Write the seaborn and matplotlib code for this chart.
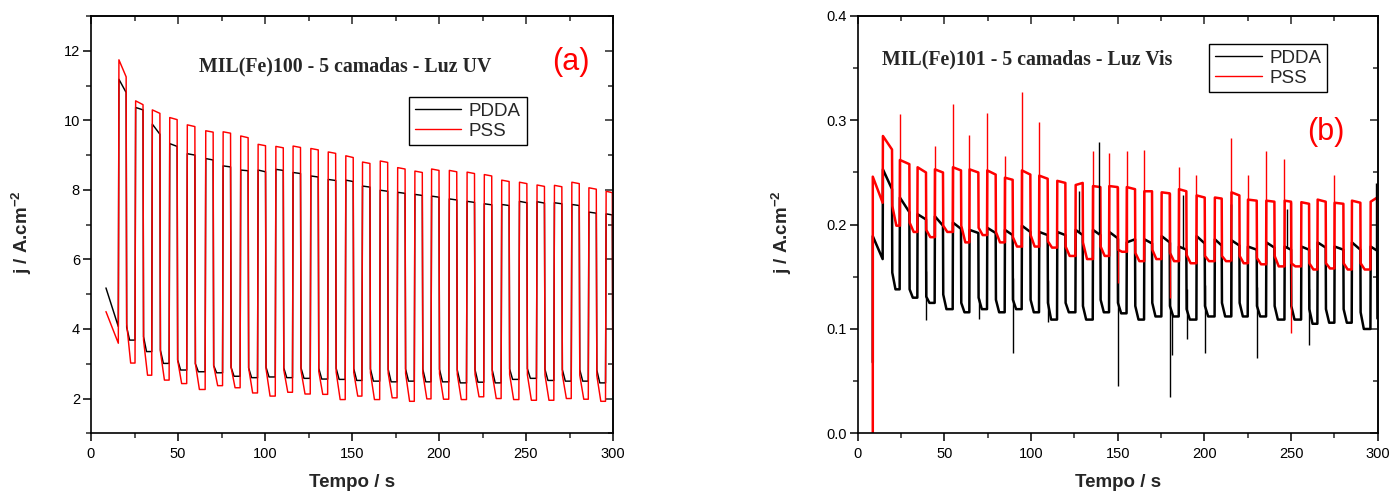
import numpy as np
import pandas as pd
import matplotlib
matplotlib.use("Agg")
import matplotlib.pyplot as plt
import seaborn as sns
from matplotlib.ticker import MultipleLocator, FormatStrFormatter

# ================= Panel (a): MIL(Fe)100 - UV light =================
a_t_on = [15.7, 25.3, 34.9, 44.9, 55.0, 65.6, 75.6, 85.7, 95.7, 105.9, 115.8, 126.0, 136.0, 146.1,
          155.7, 165.9, 175.9, 185.8, 195.4, 205.6, 215.8, 225.7, 235.7, 245.9, 256.0, 266.0, 276.0,
          285.8, 295.7]
a_t_off = [20.2, 29.9, 39.6, 49.5, 59.7, 70.2, 80.2, 90.3, 100.3, 110.5, 120.4, 130.6, 140.6, 150.7,
           160.3, 170.5, 180.5, 190.4, 200.0, 210.2, 220.4, 230.3, 240.3, 250.5, 260.6, 270.6, 280.6,
           290.4, 299.6]
# PDDA (black)
a_pdda_init = [8.6, 5.18, 4.07]
a_pdda_on_start = [11.18, 10.37, 9.89, 9.33, 9.04, 8.90, 8.69, 8.57, 8.57, 8.59, 8.50, 8.40, 8.30, 8.28,
                   8.11, 7.99, 7.93, 7.87, 7.82, 7.74, 7.67, 7.60, 7.58, 7.67, 7.66, 7.63, 7.58, 7.36, 7.31]
a_pdda_on_end = [10.80, 10.30, 9.60, 9.25, 9.00, 8.86, 8.66, 8.55, 8.52, 8.56, 8.47, 8.37, 8.27, 8.24,
                 8.08, 7.96, 7.90, 7.84, 7.79, 7.71, 7.64, 7.57, 7.55, 7.63, 7.62, 7.60, 7.55, 7.33, 7.28]
a_pdda_off_start = [4.05, 3.78, 3.39, 3.11, 3.00, 2.95, 2.90, 2.88, 2.90, 2.88, 2.88, 2.87, 2.87, 2.86,
                    2.85, 2.84, 2.85, 2.84, 2.84, 2.82, 2.83, 2.82, 2.85, 2.86, 2.84, 2.83, 2.83, 2.82, 2.80]
a_pdda_off_end = [3.68, 3.35, 3.01, 2.82, 2.77, 2.74, 2.64, 2.60, 2.62, 2.60, 2.58, 2.56, 2.55, 2.52,
                  2.50, 2.48, 2.50, 2.48, 2.48, 2.45, 2.47, 2.45, 2.55, 2.58, 2.52, 2.50, 2.50, 2.45]
# PSS (red)
a_pss_init = [8.6, 4.50, 3.59]
a_pss_on_start = [11.74, 10.56, 10.30, 10.08, 9.87, 9.70, 9.67, 9.55, 9.31, 9.25, 9.26, 9.19, 9.09, 8.98,
                  8.80, 8.83, 8.64, 8.54, 8.60, 8.56, 8.51, 8.44, 8.28, 8.22, 8.14, 8.13, 8.22, 8.06, 7.96]
a_pss_on_end = [11.25, 10.45, 10.20, 10.02, 9.82, 9.66, 9.63, 9.50, 9.27, 9.21, 9.22, 9.15, 9.05, 8.93,
                8.76, 8.79, 8.60, 8.50, 8.56, 8.52, 8.47, 8.40, 8.24, 8.18, 8.10, 8.09, 8.18, 8.02, 7.92]
a_pss_off_start = [4.15, 3.68, 3.35, 3.10, 3.00, 2.95, 2.90, 2.88, 2.85, 2.82, 2.80, 2.78, 2.76, 2.75,
                   2.74, 2.73, 2.72, 2.72, 2.71, 2.70, 2.70, 2.70, 2.69, 2.68, 2.68, 2.68, 2.67, 2.66, 2.10]
a_pss_off_end = [3.02, 2.67, 2.53, 2.43, 2.26, 2.37, 2.31, 2.16, 2.07, 2.18, 2.13, 2.12, 1.97, 2.07,
                 1.97, 2.02, 1.92, 1.99, 1.98, 1.97, 2.05, 2.00, 1.97, 1.95, 1.95, 2.00, 1.98, 1.92]

# ================= Panel (b): MIL(Fe)101 - visible light =================
b_t_on = [14.4, 24.2, 34.4, 44.4, 54.8, 64.4, 74.6, 84.8, 94.6, 104.6, 115.0, 125.6, 135.6, 145.0,
          155.1, 165.2, 175.2, 185.2, 195.4, 205.9, 215.5, 225.0, 235.6, 246.2, 255.8, 265.2, 275.0,
          285.0, 295.8]
b_t_off = [19.8, 29.8, 39.4, 49.2, 59.6, 69.6, 79.6, 89.4, 99.6, 109.6, 119.8, 129.8, 140.0, 150.0,
           160.0, 169.8, 180.0, 189.6, 200.2, 210.0, 220.2, 230.2, 240.4, 250.0, 260.4, 270.0, 280.2,
           290.0, 299.7]
# PDDA (black)
b_pdda_init = [8.7, 0.068, 0.189, 0.167]
b_pdda_on_start = [0.253, 0.226, 0.210, 0.208, 0.202, 0.195, 0.197, 0.195, 0.199, 0.193, 0.193, 0.195,
                   0.195, 0.193, 0.183, 0.186, 0.189, 0.179, 0.189, 0.186, 0.185, 0.179, 0.183, 0.179,
                   0.179, 0.183, 0.179, 0.183, 0.179]
b_pdda_on_end = [0.234, 0.212, 0.205, 0.199, 0.196, 0.192, 0.192, 0.190, 0.193, 0.190, 0.190, 0.190,
                 0.190, 0.187, 0.186, 0.182, 0.183, 0.176, 0.182, 0.180, 0.180, 0.176, 0.178, 0.176,
                 0.176, 0.178, 0.176, 0.176, 0.175]
b_pdda_off_start = [0.154, 0.138, 0.131, 0.133, 0.125, 0.130, 0.128, 0.128, 0.128, 0.125, 0.125, 0.122,
                    0.128, 0.125, 0.122, 0.125, 0.122, 0.119, 0.122, 0.125, 0.125, 0.122, 0.122, 0.122,
                    0.119, 0.119, 0.119, 0.116, 0.110]
b_pdda_off_end = [0.138, 0.130, 0.125, 0.119, 0.116, 0.119, 0.116, 0.119, 0.116, 0.109, 0.116, 0.109,
                  0.116, 0.115, 0.109, 0.112, 0.112, 0.109, 0.112, 0.112, 0.112, 0.112, 0.109, 0.109,
                  0.105, 0.106, 0.106, 0.100]
b_pdda_spike_t = [39.5, 70.0, 89.5, 109.7, 127.5, 139.0, 149.9, 180.0, 181.5, 187.8, 189.7, 200.3,
                  215.2, 230.3, 247.5, 260.5, 299.2]
b_pdda_spike_v = [0.109, 0.110, 0.077, 0.107, 0.232, 0.279, 0.045, 0.035, 0.075, 0.228, 0.090, 0.077,
                  0.220, 0.0725, 0.215, 0.085, 0.240]
# PSS (red)
b_pss_init = [8.7, 0.0, 0.246, 0.221]
b_pss_on_start = [0.285, 0.262, 0.255, 0.253, 0.255, 0.253, 0.252, 0.245, 0.252, 0.247, 0.242, 0.238,
                  0.237, 0.237, 0.236, 0.232, 0.231, 0.234, 0.228, 0.226, 0.231, 0.224, 0.223, 0.223,
                  0.2215, 0.224, 0.221, 0.223, 0.222]
b_pss_on_end = [0.272, 0.258, 0.250, 0.250, 0.252, 0.250, 0.248, 0.243, 0.248, 0.244, 0.240, 0.240,
                0.236, 0.236, 0.234, 0.232, 0.230, 0.232, 0.226, 0.225, 0.228, 0.223, 0.222, 0.222,
                0.220, 0.222, 0.220, 0.221, 0.226]
b_pss_off_start = [0.218, 0.202, 0.195, 0.199, 0.199, 0.197, 0.193, 0.188, 0.190, 0.184, 0.179, 0.183,
                   0.179, 0.176, 0.173, 0.176, 0.173, 0.171, 0.170, 0.170, 0.170, 0.168, 0.170, 0.163,
                   0.163, 0.163, 0.163, 0.163, 0.200]
b_pss_off_end = [0.199, 0.193, 0.188, 0.193, 0.183, 0.190, 0.183, 0.179, 0.179, 0.178, 0.170, 0.167,
                 0.170, 0.174, 0.165, 0.167, 0.165, 0.163, 0.165, 0.165, 0.163, 0.162, 0.160, 0.160,
                 0.157, 0.158, 0.157, 0.157]
b_pss_spike_t = [24.2, 44.4, 54.8, 64.4, 74.6, 84.8, 94.6, 104.6, 135.6, 145.0, 150.0, 155.1, 165.2,
                 180.0, 185.2, 195.4, 215.5, 225.0, 235.6, 246.2, 250.0, 275.0]
b_pss_spike_v = [0.306, 0.275, 0.316, 0.286, 0.307, 0.266, 0.327, 0.298, 0.271, 0.269, 0.144, 0.271,
                 0.272, 0.130, 0.255, 0.248, 0.283, 0.248, 0.271, 0.263, 0.0965, 0.248]

series_names = ["PDDA", "PSS"]
colors = {"PDDA": "#000000", "PSS": "#ff0000"}
panel_titles = ["MIL(Fe)100 - 5 camadas - Luz UV", "MIL(Fe)101 - 5 camadas - Luz Vis"]
panel_tags = ["(a)", "(b)"]
x_label = "Tempo / s"
y_label = "j / A.cm$^{\\mathbf{-2}}$"


def trace(init, t_on, t_off, on_start, on_end, off_start, off_end, rise, fall, settle):
    ts, ys = [], []
    if len(init) == 4:          # vertical start from a pre-level
        ts.append(init[0]); ys.append(init[1])
        init = [init[0], init[2], init[3]]
    ts += [init[0], t_on[0]]
    ys += [init[1], init[2]]
    n = len(t_on)
    for i in range(n):
        ts += [t_on[i] + rise, t_off[i], t_off[i] + fall]
        ys += [on_start[i], on_end[i], off_start[i]]
        if i + 1 < n:
            ts += [t_off[i] + settle, t_on[i + 1]]
            ys += [off_end[i], off_end[i]]
    return ts, ys


def frame(parts):
    rows = []
    for name, (ts, ys) in parts:
        rows.append(pd.DataFrame({"t": ts, "j": ys, "serie": name}))
    return pd.concat(rows, ignore_index=True)


df_a = frame([
    ("PDDA", trace(a_pdda_init, a_t_on, a_t_off, a_pdda_on_start, a_pdda_on_end,
                   a_pdda_off_start, a_pdda_off_end, 0.35, 0.3, 2.0)),
    ("PSS", trace(a_pss_init, a_t_on, a_t_off, a_pss_on_start, a_pss_on_end,
                  a_pss_off_start, a_pss_off_end, 0.35, 0.3, 2.6)),
])
df_b = frame([
    ("PDDA", trace(b_pdda_init, b_t_on, b_t_off, b_pdda_on_start, b_pdda_on_end,
                   b_pdda_off_start, b_pdda_off_end, 0.15, 0.15, 2.0)),
    ("PSS", trace(b_pss_init, b_t_on, b_t_off, b_pss_on_start, b_pss_on_end,
                  b_pss_off_start, b_pss_off_end, 0.15, 0.15, 2.5)),
])

sns.set_style("ticks")
plt.rcParams["font.family"] = ["Liberation Sans", "DejaVu Sans"]
plt.rcParams["mathtext.fontset"] = "custom"
plt.rcParams["mathtext.rm"] = "Liberation Sans"
plt.rcParams["mathtext.bf"] = "Liberation Sans:bold"

W, H = 1395, 494
fig = plt.figure(figsize=(W / 100, H / 100), dpi=100)
ax_a = fig.add_axes([91 / W, 1 - 433.3 / H, (613 - 91) / W, (433.3 - 16) / H])
ax_b = fig.add_axes([857.7 / W, 1 - 433.3 / H, (1377.7 - 857.7) / W, (433.3 - 16) / H])

sns.lineplot(data=df_a, x="t", y="j", hue="serie", hue_order=series_names, palette=colors,
             sort=False, estimator=None, linewidth=1.05, ax=ax_a)
sns.lineplot(data=df_b, x="t", y="j", hue="serie", hue_order=series_names, palette=colors,
             sort=False, estimator=None, linewidth=1.8, ax=ax_b)

# isolated spikes on panel (b)
for name, st, sv in [("PDDA", b_pdda_spike_t, b_pdda_spike_v), ("PSS", b_pss_spike_t, b_pss_spike_v)]:
    sub = df_b[df_b["serie"] == name]
    base = np.interp(st, sub["t"].values, sub["j"].values)
    ax_b.vlines(st, base, sv, colors=colors[name], linewidth=1.0, zorder=3 if name == "PSS" else 2)

layout = [
    (ax_a, (1, 13), 2, 1, "%d", panel_titles[0], (0.487, 0.880), panel_tags[0], (0.920, 0.890),
     (0.609, 0.806)),
    (ax_b, (0, 0.4), 0.1, 0.05, "%.1f", panel_titles[1], (0.326, 0.896), panel_tags[1], (0.901, 0.722),
     (0.676, 0.933)),
]
for ax, ylim, ymaj, ymin, yfmt, title, tpos, tag, gpos, lpos in layout:
    ax.set_xlim(0, 300)
    ax.set_ylim(*ylim)
    ax.xaxis.set_major_locator(MultipleLocator(50))
    ax.xaxis.set_minor_locator(MultipleLocator(25))
    ax.yaxis.set_major_locator(MultipleLocator(ymaj))
    ax.yaxis.set_minor_locator(MultipleLocator(ymin))
    ax.yaxis.set_major_formatter(FormatStrFormatter(yfmt))
    ax.set_xlabel("")
    ax.set_ylabel("")
    for sp in ax.spines.values():
        sp.set_visible(True)
        sp.set_linewidth(1.2)
        sp.set_color("black")
    ax.tick_params(which="major", direction="out", length=6, width=1.1, labelsize=10.5,
                   colors="black", pad=2)
    ax.tick_params(which="minor", direction="out", length=3.5, width=1.1)
    ax.tick_params(axis="x", which="major", pad=4)
    sec_x = ax.secondary_xaxis("top")
    sec_x.xaxis.set_major_locator(MultipleLocator(50))
    sec_x.xaxis.set_minor_locator(MultipleLocator(25))
    sec_x.tick_params(which="major", direction="in", length=6, width=1.1, labeltop=False)
    sec_x.tick_params(which="minor", direction="in", length=3.5, width=1.1)
    sec_x.spines["top"].set_linewidth(1.2)
    sec_y = ax.secondary_yaxis("right")
    sec_y.yaxis.set_major_locator(MultipleLocator(ymaj))
    sec_y.yaxis.set_minor_locator(MultipleLocator(ymin))
    sec_y.tick_params(which="major", direction="in", length=6, width=1.1, labelright=False)
    sec_y.tick_params(which="minor", direction="in", length=3.5, width=1.1)
    sec_y.spines["right"].set_linewidth(1.2)

    ax.text(*tpos, title, transform=ax.transAxes, ha="center", va="center",
            family=["Liberation Serif"], fontweight="bold", fontsize=14.3)
    ax.text(*gpos, tag, transform=ax.transAxes, ha="center", va="center",
            color="#ff0000", fontsize=22)

    handles, labels = ax.get_legend_handles_labels()
    leg = ax.legend(handles, labels, loc="upper left", bbox_to_anchor=lpos, borderaxespad=0,
                    frameon=True, fancybox=False, edgecolor="black", framealpha=1,
                    fontsize=13.5, handlelength=2.5, handletextpad=0.4, labelspacing=0.15,
                    borderpad=0.3)
    leg.get_frame().set_linewidth(1.0)
    for ln in leg.get_lines():
        ln.set_linewidth(1.0)

# axis labels
for xc in [352.3, 1117.7]:
    fig.text(xc / W, 1 - 474 / H, x_label, ha="center", va="top", fontsize=13.5, fontweight="bold")
for xc in [21.7, 781.7]:
    fig.text(xc / W, 1 - 232 / H, y_label, ha="center", va="center", rotation=90,
             fontsize=13.5, fontweight="bold")

fig.savefig("out.png", dpi=100)
